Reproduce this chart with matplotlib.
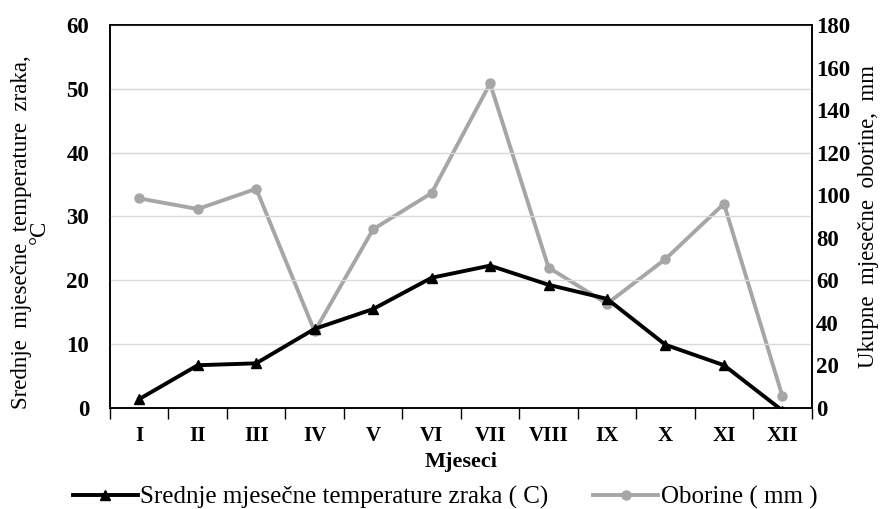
import matplotlib
matplotlib.use("Agg")
import matplotlib.pyplot as plt
import numpy as np

months = ["I", "II", "III", "IV", "V", "VI", "VII", "VIII", "IX", "X", "XI", "XII"]
temperature = [1.4, 6.7, 7.0, 12.4, 15.5, 20.4, 22.3, 19.3, 17.1, 9.9, 6.7, -0.4]
precipitation = [98.5, 93.5, 103.0, 36.0, 84.0, 101.0, 152.5, 66.0, 49.0, 70.0, 96.0, 5.5]

plt.rcParams['font.family'] = ['Liberation Serif', 'DejaVu Serif']

fig = plt.figure(figsize=(8.9, 5.09), dpi=100)
ax = fig.add_axes([0.1236, 0.1984, 0.7884, 0.7526])
ax2 = ax.twinx()

x = np.arange(len(months))
gray = "#A6A6A6"

ax.set_ylim(0, 60)
ax.set_yticks(np.arange(0, 61, 10))
ax.grid(axis='y', color='#D9D9D9', linewidth=1.0)
ax.set_axisbelow(True)
ax.set_xlim(-0.5, len(months) - 0.5)

ax2.set_ylim(0, 180)
ax2.set_yticks(np.arange(0, 181, 20))

lp, = ax2.plot(x, precipitation, color=gray, linewidth=2.8, marker='o', markersize=6.5,
               label="Oborine ( mm )", zorder=2)
lt, = ax.plot(x, temperature, color='black', linewidth=2.8, marker='^', markersize=6.5,
              label="Srednje mjesečne temperature zraka ( C)", zorder=3, clip_on=True)
ax.set_zorder(ax2.get_zorder() + 1)
ax.patch.set_visible(False)

# category ticks at boundaries, labels at centres
ax.set_xticks(np.arange(-0.5, len(months), 1.0))
ax.set_xticklabels([])
ax.set_xticks(x, minor=True)
ax.set_xticklabels(months, minor=True, fontsize=15, fontweight='bold')
ax.tick_params(axis='x', which='major', length=8, width=1, direction='out', color='black')
ax.tick_params(axis='x', which='minor', length=0, pad=13)

ax.tick_params(axis='y', length=0, labelsize=16.5, pad=15)
for lab in ax.get_yticklabels():
    lab.set_fontweight('bold')
ax2.tick_params(axis='y', length=0, labelsize=16.5, pad=3)
for lab in ax2.get_yticklabels():
    lab.set_fontweight('bold')

for sp in ax.spines.values():
    sp.set_color('black')
    sp.set_linewidth(1.2)
for sp in ax2.spines.values():
    sp.set_color('black')
    sp.set_linewidth(1.2)

ax.set_ylabel("Srednje  mjesečne  temperature  zraka,\n°C", fontsize=16.5, linespacing=0.85)
ax.yaxis.set_label_coords(-0.085, 0.46)
ax2.set_ylabel("Ukupne  mjesečne  oborine,  mm", fontsize=16.5, labelpad=6)
ax.set_xlabel("Mjeseci", fontsize=16, fontweight='bold', labelpad=4)

fig.legend([lt, lp], [lt.get_label(), lp.get_label()], loc='lower center',
           bbox_to_anchor=(0.5, -0.045), ncol=2, frameon=False, fontsize=18,
           handlelength=2.6, columnspacing=1.8, handletextpad=0.1)

fig.savefig("out.png", dpi=100)
